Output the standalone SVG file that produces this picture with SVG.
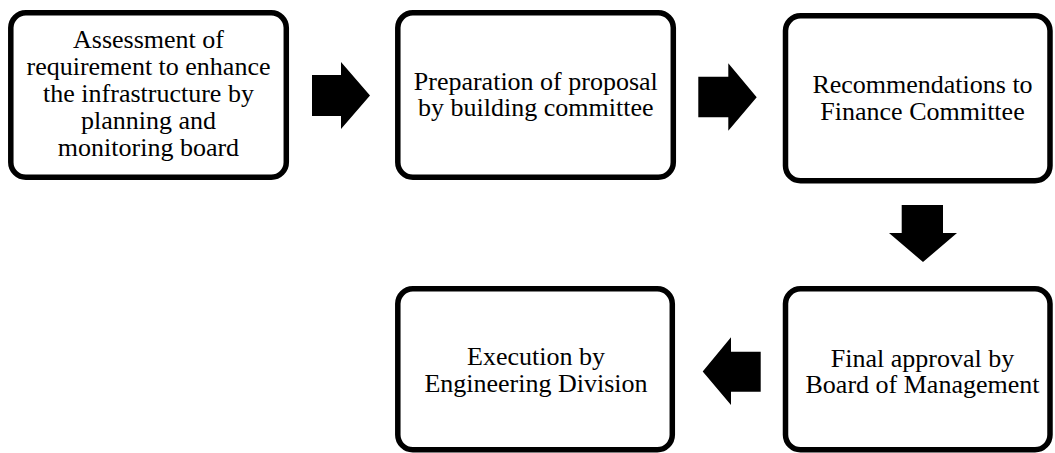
<svg xmlns="http://www.w3.org/2000/svg" width="1055" height="453" viewBox="0 0 1055 453">
<style>
.box{fill:#fff;stroke:#000;stroke-width:5.5}
.t{font-family:'Liberation Serif','Times New Roman',serif;font-size:26px;fill:#000;text-anchor:middle}
.arr{fill:#000}
</style>
<rect width="1055" height="453" fill="#fff"/>
<g id="n1">
<rect class="box" x="10.8" y="12.8" width="275.5" height="164.5" rx="15"/>
<text class="t"><tspan x="148.5" y="47.5">Assessment of</tspan><tspan x="148.5" y="74.5">requirement to enhance</tspan><tspan x="148.5" y="101.5">the infrastructure by</tspan><tspan x="148.5" y="128.5">planning and</tspan><tspan x="148.5" y="155.5">monitoring board</tspan></text>
</g>
<g id="n2">
<rect class="box" x="397.8" y="12.8" width="275.5" height="164.5" rx="15"/>
<text class="t"><tspan x="535.8" y="90">Preparation of proposal</tspan><tspan x="535.8" y="116">by building committee</tspan></text>
</g>
<g id="n3">
<rect class="box" x="785.5" y="15.8" width="264.5" height="165" rx="15"/>
<text class="t"><tspan x="922.5" y="93">Recommendations to</tspan><tspan x="922.5" y="120">Finance Committee</tspan></text>
</g>
<g id="n4">
<rect class="box" x="785.5" y="288.8" width="264.5" height="161" rx="15"/>
<text class="t"><tspan x="922.5" y="366.7">Final approval by</tspan><tspan x="922.5" y="393.3">Board of Management</tspan></text>
</g>
<g id="n5">
<rect class="box" x="397.8" y="288.8" width="274.5" height="161" rx="15"/>
<text class="t"><tspan x="536" y="365">Execution by</tspan><tspan x="536" y="391.7">Engineering Division</tspan></text>
</g>
<g id="connectors">
<polygon class="arr" points="312,75 341,75 341,62 370,95.5 341,129 341,116 312,116"/>
<polygon class="arr" points="698.3,76.7 728.3,76.7 728.3,63.3 756.7,97.2 728.3,130.7 728.3,117.3 698.3,117.3"/>
<polygon class="arr" points="901.7,205 943,205 943,233 957,233 923,262 889,233 901.7,233"/>
<polygon class="arr" points="760.7,351.7 731,351.7 731,337.3 702.7,371.5 731,405 731,391.7 760.7,391.7"/>
</g>
</svg>
